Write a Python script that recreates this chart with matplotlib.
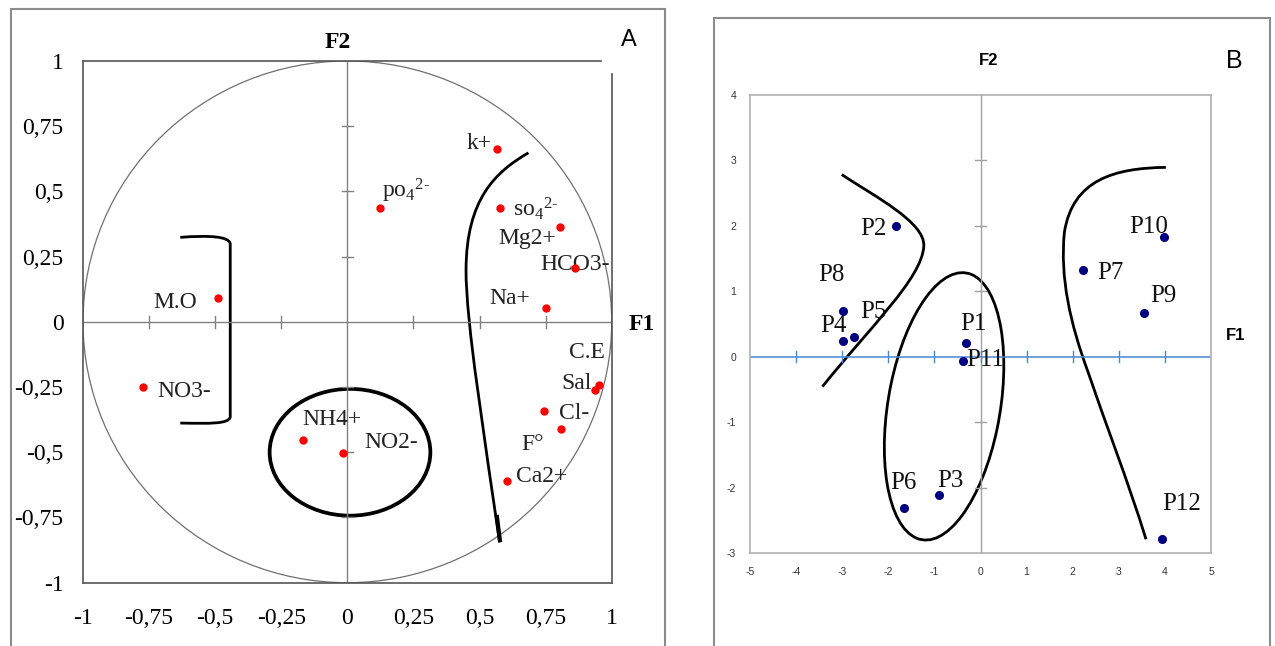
import numpy as np
import matplotlib
matplotlib.use("Agg")
import matplotlib.pyplot as plt
from matplotlib.path import Path
from matplotlib.patches import PathPatch, Ellipse, Circle, Rectangle

plt.rcParams['mathtext.fontset'] = 'custom'
plt.rcParams['mathtext.rm'] = 'Liberation Serif'
plt.rcParams['mathtext.it'] = 'Liberation Serif:italic'

# ---------------- Panel A data (variables circle) ----------------
var_names = ['k+', r'po$\mathregular{_{4}{}^{2\text{-}}}$', r'so$\mathregular{_{4}{}^{2\text{-}}}$', 'Mg2+', 'HCO3-',
             'Na+', 'M.O', 'NO3-', 'C.E', 'Sal', 'Cl-', 'F°', 'Ca2+', 'NH4+', 'NO2-']
var_f1 = [0.565, 0.124, 0.576, 0.804, 0.861, 0.753, -0.490, -0.774, 0.951, 0.936, 0.745, 0.807, 0.605, -0.169, -0.016]
var_f2 = [0.664, 0.438, 0.438, 0.363, 0.205, 0.055, 0.092, -0.250, -0.242, -0.262, -0.340, -0.411, -0.611, -0.453, -0.502]
# label anchors (left / baseline) in data units
var_lab_x = [0.451, 0.132, 0.626, 0.573, 0.729, 0.538, -0.732, -0.717, 0.839, 0.809, 0.801, 0.658, 0.637, -0.170, 0.065]
var_lab_y = [0.664, 0.477, 0.406, 0.300, 0.197, 0.068, 0.054, -0.288, -0.139, -0.256, -0.373, -0.493, -0.613, -0.395, -0.485]
a_ticks = [-1, -0.75, -0.5, -0.25, 0, 0.25, 0.5, 0.75, 1]
a_ticklabels = ['-1', '-0,75', '-0,5', '-0,25', '0', '0,25', '0,5', '0,75', '1']

# ---------------- Panel B data (observations) ----------------
obs_names = ['P1', 'P2', 'P3', 'P4', 'P5', 'P6', 'P7', 'P8', 'P9', 'P10', 'P11', 'P12']
obs_f1 = [-0.31, -1.84, -0.89, -2.99, -2.74, -1.66, 2.23, -2.99, 3.54, 3.99, -0.37, 3.94]
obs_f2 = [0.21, 1.99, -2.11, 0.24, 0.30, -2.31, 1.32, 0.70, 0.67, 1.83, -0.075, -2.79]
obs_lab_x = [-0.43, -2.61, -0.93, -3.47, -2.61, -1.96, 2.53, -3.53, 3.68, 3.22, -0.31, 3.94]
obs_lab_y = [0.40, 1.86, -1.99, 0.38, 0.59, -2.02, 1.19, 1.16, 0.84, 1.88, -0.145, -2.35]
b_xticks = [-5, -4, -3, -2, -1, 0, 1, 2, 3, 4, 5]
b_yticks = [-3, -2, -1, 0, 1, 2, 3, 4]

W, H = 1275, 646
fig = plt.figure(figsize=(W / 100, H / 100), dpi=100)


def fx(px):
    return px / W


def fy(py):
    return 1 - py / H


# outer frames
fig.add_artist(Rectangle((fx(11), fy(660)), fx(665 - 11), (660 - 9) / H, fill=False,
                         edgecolor='#8c8c8c', lw=1.5, transform=fig.transFigure))
fig.add_artist(Rectangle((fx(714), fy(660)), fx(1270 - 714), (660 - 18) / H, fill=False,
                         edgecolor='#8c8c8c', lw=1.5, transform=fig.transFigure))

serif = 'Liberation Serif'
sans = 'Liberation Sans'

# ================= Panel A =================
axA = fig.add_axes([fx(83), fy(582.7), fx(611.7 - 83), (582.7 - 61) / H])
axA.set_xlim(-1, 1)
axA.set_ylim(-1, 1)
for s in ['left', 'bottom', 'top', 'right']:
    axA.spines[s].set_color('#555555')
    axA.spines[s].set_linewidth(1.2)
axA.spines['top'].set_bounds(-1, 0.958)
axA.spines['right'].set_bounds(-1, 0.950)
axA.set_xticks(a_ticks)
axA.set_xticklabels(a_ticklabels, fontfamily=serif, fontsize=17)
axA.set_yticks(a_ticks)
axA.set_yticklabels(a_ticklabels, fontfamily=serif, fontsize=17)
axA.tick_params(axis='both', length=0)
axA.tick_params(axis='x', pad=18)
axA.tick_params(axis='y', pad=14)

axA.add_patch(Circle((0, 0), 1, fill=False, edgecolor='#707070', lw=0.9))
axA.axhline(0, color='#808080', lw=1)
axA.axvline(0, color='#808080', lw=1)
for t in a_ticks:
    if t in (-1, 0, 1):
        continue
    axA.plot([t, t], [-0.022, 0.022], color='#808080', lw=1)
    axA.plot([-0.022, 0.022], [t, t], color='#808080', lw=1)

axA.plot(var_f1, var_f2, 'o', color='#ff0000', ms=5, zorder=5)
for name, lx, ly in zip(var_names, var_lab_x, var_lab_y):
    axA.text(lx, ly, name, ha='left', va='baseline', fontfamily=serif, fontsize=17, color='#222222')

# group outlines
bracket = Path([(-0.632, 0.324), (-0.52, 0.332), (-0.45, 0.328), (-0.443, 0.300),
                (-0.443, -0.365), (-0.45, -0.392), (-0.52, -0.390), (-0.632, -0.388)],
               [Path.MOVETO, Path.CURVE4, Path.CURVE4, Path.CURVE4,
                Path.LINETO, Path.CURVE4, Path.CURVE4, Path.CURVE4])
axA.add_patch(PathPatch(bracket, fill=False, lw=2, edgecolor='black'))
axA.add_patch(Ellipse((0.01, -0.50), 0.608, 0.486, fill=False, lw=2.7, edgecolor='black'))
rcurve = Path([(0.685, 0.648), (0.56, 0.575), (0.45, 0.47), (0.449, 0.20),
               (0.448, 0.0), (0.52, -0.45), (0.576, -0.845)],
              [Path.MOVETO, Path.CURVE4, Path.CURVE4, Path.CURVE4,
               Path.CURVE4, Path.CURVE4, Path.CURVE4])
axA.add_patch(PathPatch(rcurve, fill=False, lw=2, edgecolor='black'))
axA.plot([0.565, 0.578], [-0.74, -0.845], color='black', lw=3, solid_capstyle='butt')

fig.text(fx(338), fy(43), 'F2', fontfamily=serif, fontweight='bold', fontsize=17, ha='center', va='center')
fig.text(fx(642), fy(324), 'F1', fontfamily=serif, fontweight='bold', fontsize=17, ha='center', va='center')
fig.text(fx(629), fy(40), 'A', fontfamily=sans, fontsize=17, ha='center', va='center')

# ================= Panel B =================
axB = fig.add_axes([fx(750), fy(553), fx(1211 - 750), (553 - 94.7) / H])
axB.set_xlim(-5, 5)
axB.set_ylim(-3, 4)
for s in ['left', 'bottom', 'top', 'right']:
    axB.spines[s].set_color('#b0b0b0')
    axB.spines[s].set_linewidth(1.2)
axB.set_xticks(b_xticks)
axB.set_xticklabels([str(v) for v in b_xticks], fontfamily=sans, fontsize=7.5, color='#333333')
axB.set_yticks(b_yticks)
axB.set_yticklabels([str(v) for v in b_yticks], fontfamily=sans, fontsize=7.5, color='#333333')
axB.tick_params(axis='both', length=0)
axB.tick_params(axis='x', pad=10)
axB.tick_params(axis='y', pad=10)

axB.axhline(0, color='#4a86d0', lw=1.1)
axB.axvline(0, color='#a0a0a0', lw=1)
for t in b_xticks[1:-1]:
    axB.plot([t, t], [-0.08, 0.08], color='#4a86d0', lw=1)
for t in b_yticks[1:-1]:
    if t == 0:
        continue
    axB.plot([-0.12, 0.12], [t, t], color='#a0a0a0', lw=1)

axB.plot(obs_f1, obs_f2, 'o', color='#000080', ms=5.5, zorder=5)
for name, lx, ly in zip(obs_names, obs_lab_x, obs_lab_y):
    axB.text(lx, ly, name, ha='left', va='baseline', fontfamily=serif, fontsize=18, color='#111111')

lcurve = Path([(-3.01, 2.78), (-2.3, 2.45), (-1.2, 2.05), (-1.23, 1.69),
               (-1.26, 1.2), (-2.4, 0.45), (-3.43, -0.46)],
              [Path.MOVETO, Path.CURVE4, Path.CURVE4, Path.CURVE4,
               Path.CURVE4, Path.CURVE4, Path.CURVE4])
axB.add_patch(PathPatch(lcurve, fill=False, lw=2, edgecolor='black'))
axB.add_patch(Ellipse((-0.79, -0.76), 4.2, 2.4, angle=73.5, fill=False, lw=2, edgecolor='black'))
rcurveB = Path([(4.02, 2.89), (2.9, 2.88), (2.0, 2.7), (1.82, 1.9),
                (1.72, 1.2), (1.95, 0.5), (2.33, -0.23),
                (2.7, -1.0), (3.2, -1.9), (3.59, -2.79)],
               [Path.MOVETO, Path.CURVE4, Path.CURVE4, Path.CURVE4,
                Path.CURVE4, Path.CURVE4, Path.CURVE4,
                Path.CURVE4, Path.CURVE4, Path.CURVE4])
axB.add_patch(PathPatch(rcurveB, fill=False, lw=2, edgecolor='black'))

fig.text(fx(988.6), fy(60.6), 'F2', fontfamily=sans, fontweight='bold', fontsize=12, ha='center', va='center')
fig.text(fx(1235.4), fy(335.8), 'F1', fontfamily=sans, fontweight='bold', fontsize=12, ha='center', va='center')
fig.text(fx(1234.6), fy(61), 'B', fontfamily=sans, fontsize=18, ha='center', va='center')

fig.savefig('out.png', dpi=100)
